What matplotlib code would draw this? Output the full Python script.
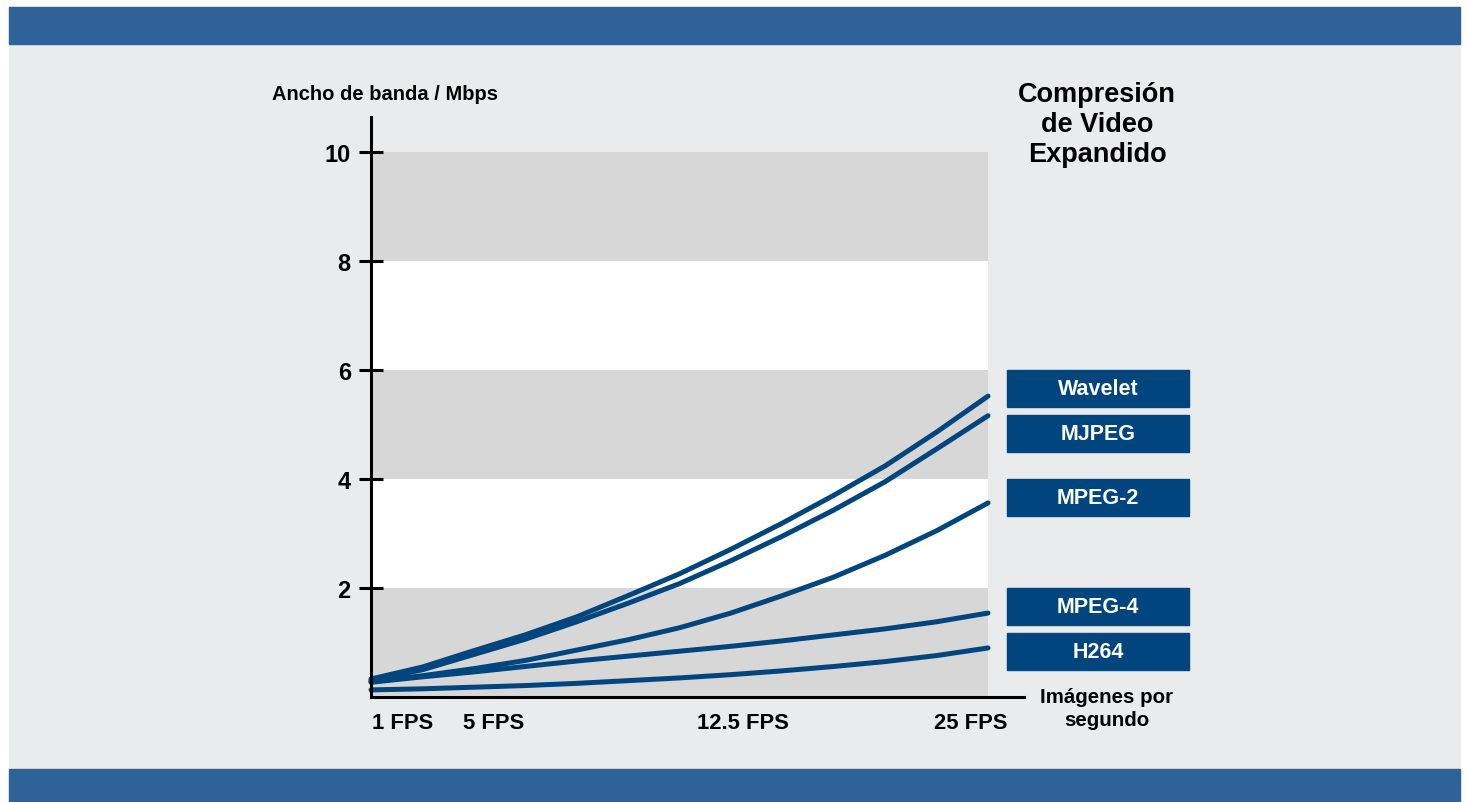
import matplotlib.pyplot as plt
from matplotlib.patches import Rectangle

plt.rcParams['font.family'] = ['Liberation Sans', 'DejaVu Sans']
plt.rcParams['font.weight'] = 'bold'

# Datos (FPS vs ancho de banda en Mbps)
fps = [1, 3, 5, 7, 9, 11, 13, 15, 17, 19, 21, 23, 25]
wavelet = [0.33, 0.55, 0.85, 1.14, 1.47, 1.86, 2.26, 2.71, 3.19, 3.70, 4.24, 4.86, 5.52]
mjpeg = [0.30, 0.50, 0.78, 1.06, 1.38, 1.72, 2.08, 2.50, 2.95, 3.43, 3.95, 4.55, 5.16]
mpeg2 = [0.28, 0.39, 0.52, 0.67, 0.86, 1.05, 1.27, 1.54, 1.86, 2.20, 2.60, 3.05, 3.56]
mpeg4 = [0.27, 0.37, 0.46, 0.56, 0.66, 0.75, 0.84, 0.93, 1.03, 1.14, 1.25, 1.38, 1.54]
h264 = [0.13, 0.15, 0.18, 0.21, 0.25, 0.30, 0.35, 0.41, 0.48, 0.56, 0.65, 0.76, 0.90]

series_names = ["Wavelet", "MJPEG", "MPEG-2", "MPEG-4", "H264"]
series = [wavelet, mjpeg, mpeg2, mpeg4, h264]
label_y = [5.66, 4.83, 3.66, 1.66, 0.83]  # centro de cada etiqueta

y_ticks = [2, 4, 6, 8, 10]
x_labels = ["1 FPS", "5 FPS", "12.5 FPS", "25 FPS"]
x_label_pos = [2.24, 5.78, 15.47, 24.34]

bands = [(0, 2), (4, 6), (8, 10)]

blue_bar = "#30629a"
panel = "#eaebed"
band_gray = "#d7d7d7"
line_blue = "#00457e"

fig = plt.figure(figsize=(14.67, 8.03), dpi=100)
W, H = 1467, 803

# Fondo: panel gris claro y barras azules
fig.patches.append(Rectangle((9 / W, 0), 1451 / W, (803 - 8) / H, transform=fig.transFigure,
                             color=panel, zorder=-3))
fig.patches.append(Rectangle((9 / W, (803 - 45) / H), 1451 / W, 37 / H, transform=fig.transFigure,
                             color=blue_bar, zorder=-2))
fig.patches.append(Rectangle((9 / W, 0), 1451 / W, 33 / H, transform=fig.transFigure,
                             color=blue_bar, zorder=-2))

ax = fig.add_axes([371 / W, 105 / H, 653 / W, 580 / H])
ax.set_facecolor("none")
ax.set_xlim(1, 26.4)
ax.set_ylim(0, 10.64)

# Bandas
ax.fill_between([1, 25], 0, 10, color="white", lw=0, zorder=0)
for lo, hi in bands:
    ax.fill_between([1, 25], lo, hi, color=band_gray, lw=0, zorder=1)

for s in series:
    ax.plot(fps, s, color=line_blue, lw=3.6, solid_capstyle="round", zorder=3, clip_on=False)

# Etiquetas de series
for name, yc in zip(series_names, label_y):
    ax.add_patch(Rectangle((25.74, yc - 0.34), 7.08, 0.68, color=line_blue, clip_on=False, zorder=4))
    ax.text(25.74 + 3.54, yc, name, color="white", fontsize=15.5, ha="center", va="center",
            fontweight="bold", zorder=5, clip_on=False)

for sp in ["top", "right"]:
    ax.spines[sp].set_visible(False)
for sp in ["left", "bottom"]:
    ax.spines[sp].set_linewidth(2.2)
    ax.spines[sp].set_zorder(6)

ax.set_yticks(y_ticks)
ax.set_yticklabels([str(t) for t in y_ticks], fontsize=17, fontweight="bold")
ax.tick_params(axis="y", direction="inout", length=17, width=2.2, pad=6)
ax.set_xticks(x_label_pos)
ax.set_xticklabels(x_labels, fontsize=15.8, fontweight="bold")
ax.tick_params(axis="x", length=0, pad=11)

fig.text(272 / W, 1 - 95 / H, "Ancho de banda / Mbps", fontsize=14.5, ha="left", va="center",
         fontweight="bold")
fig.text(1097 / W, 1 - 125 / H, "Compresión\nde Video\nExpandido", fontsize=19.5, ha="center",
         va="center", fontweight="bold", linespacing=1.2)
fig.text(1107 / W, 1 - 709 / H, "Imágenes por\nsegundo", fontsize=14.8, ha="center", va="center",
         fontweight="bold", linespacing=1.3)

fig.savefig("out.png", dpi=100, facecolor="white")
